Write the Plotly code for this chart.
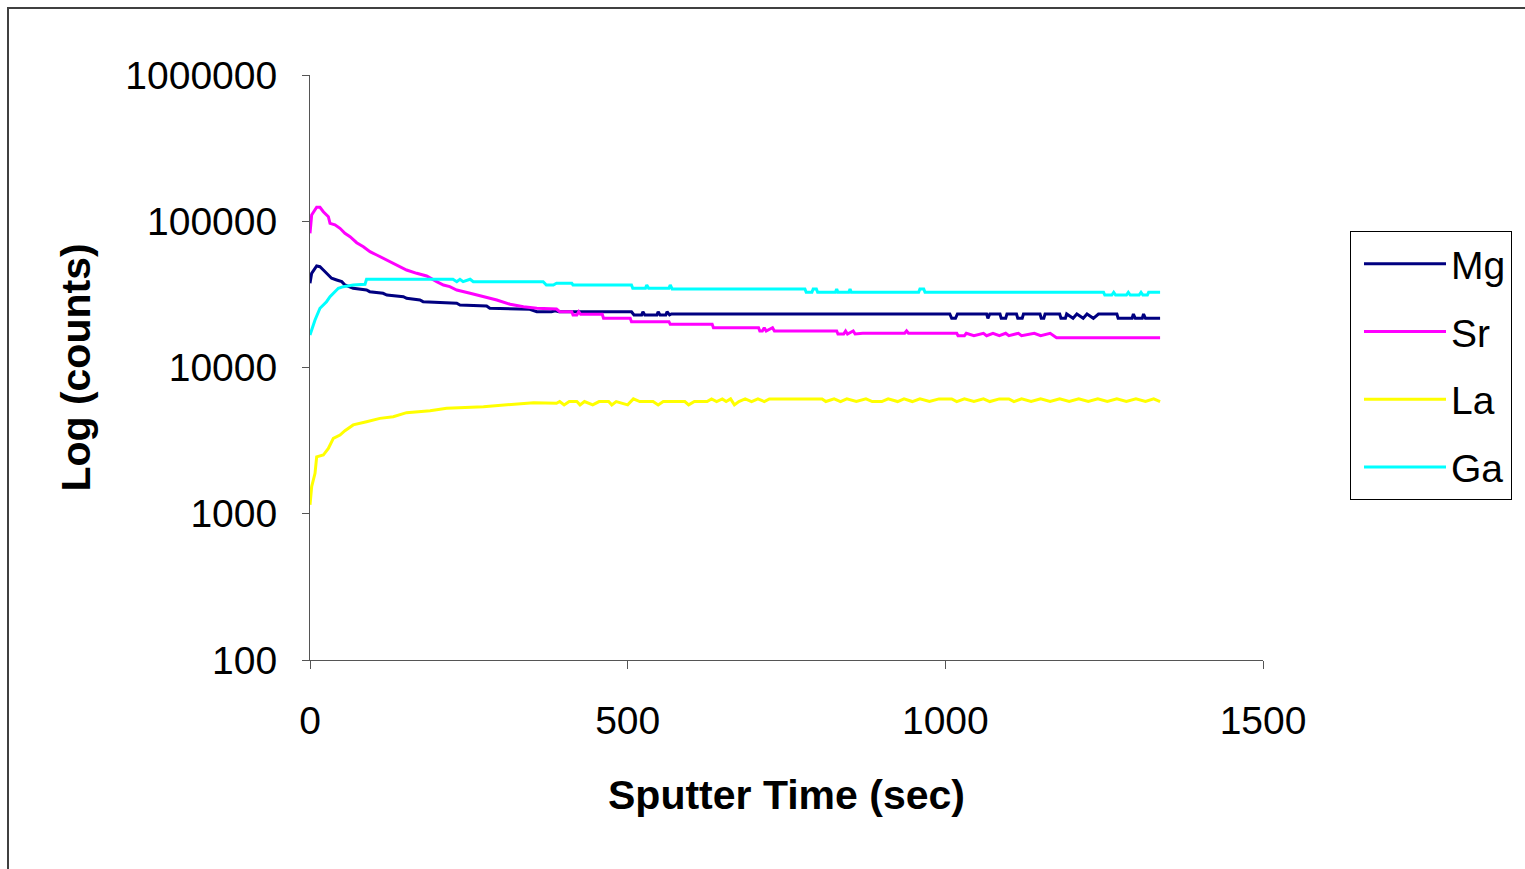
import plotly.graph_objects as go

# ---------------- data ----------------
t_mg = [0, 2.6, 10.5, 15.7, 21, 28.9, 34, 42, 50, 55, 68, 89, 94, 115, 121, 147, 152, 173, 178,
        231, 236, 278, 283, 346, 357, 380, 386, 392, 441, 506, 510, 522, 524, 527, 546, 548, 551,
        560, 562, 566, 569, 1007, 1010, 1016, 1019, 1065, 1067, 1070, 1086, 1088, 1095, 1097,
        1112, 1114, 1121, 1123, 1149, 1151, 1155, 1157, 1180, 1182, 1189, 1191, 1201, 1207, 1217,
        1223, 1233, 1241, 1270, 1272, 1294, 1296, 1299, 1310, 1312, 1315, 1338]
mg = [37650, 44060, 49430, 48900, 46420, 42910, 40740, 39660, 38620, 36650, 34790, 33880, 32990,
      32170, 31310, 30490, 29720, 28930, 28180, 27480, 26760, 26340, 25400, 25000, 24070, 24070,
      24460, 24070, 24070, 24070, 22870, 22870, 24070, 22870, 22870, 24070, 22870, 22870, 24070,
      22870, 23220, 23220, 21700, 21700, 23220, 23220, 21700, 23220, 23220, 21700, 21700, 23220,
      23220, 21700, 21700, 23220, 23220, 21700, 21700, 23220, 23220, 21700, 21700, 23220, 21700,
      23220, 21700, 23220, 21700, 23220, 23220, 21700, 21700, 23220, 21700, 21700, 23220, 21700,
      21700]

t_sr = [0, 2.6, 10.5, 15.7, 21, 28.9, 31.5, 39.3, 47.2, 55, 63, 73.5, 84, 94.4, 105, 115.4, 126,
        141.7, 152, 168, 183.6, 199.4, 210, 220, 231, 252, 273, 294, 315, 336, 357, 388, 393, 412,
        414, 420, 423, 426, 460, 462, 504, 506, 565, 567, 633, 635, 706, 708, 712, 715, 718, 728,
        731, 829, 831, 840, 843, 846, 855, 858, 870, 936, 939, 942, 1018, 1020, 1030, 1033, 1045,
        1060, 1065, 1075, 1085, 1095, 1100, 1115, 1120, 1140, 1150, 1165, 1175, 1338]
sr = [82700, 110300, 124600, 124600, 116200, 107400, 96800, 94600, 89500, 82700, 78400, 71370,
      66990, 61920, 58770, 55810, 52900, 49430, 46420, 44060, 42230, 38620, 36650, 35700, 33880,
      32170, 30490, 28930, 27050, 26040, 25400, 25120, 24070, 24070, 22870, 22870, 24070, 23110,
      23110, 21700, 21700, 20570, 20570, 19740, 19740, 18720, 18720, 17770, 17770, 18720, 17770,
      18720, 17770, 17770, 16950, 16950, 17770, 16950, 17770, 16950, 17130, 17130, 17770, 17130,
      17130, 16500, 16500, 17130, 16500, 17130, 16500, 17130, 16500, 17130, 16500, 17130, 16500,
      17130, 16500, 17130, 15990, 15990]

t_la = [0, 2.6, 7.9, 10.5, 21, 28.9, 36.7, 47.2, 55, 68, 89, 110, 131, 152, 189, 215, 273, 310,
        352, 388, 393, 400, 408, 420, 425, 432, 445, 455, 470, 475, 482, 500, 509, 519, 540, 548,
        556, 590, 596, 605, 625, 632, 640, 649, 655, 662, 668, 675, 685, 695, 705, 715, 723, 806,
        812, 825, 835, 845, 860, 875, 885, 900, 910, 925, 935, 948, 960, 975, 990, 1010, 1018,
        1030, 1045, 1060, 1070, 1085, 1100, 1108, 1120, 1135, 1150, 1165, 1180, 1195, 1210, 1225,
        1240, 1255, 1270, 1285, 1300, 1315, 1328, 1338]
la = [1150, 1530, 1890, 2450, 2520, 2800, 3280, 3450, 3700, 4050, 4260, 4490, 4610, 4910, 5070,
      5260, 5400, 5540, 5750, 5690, 5850, 5550, 5850, 5850, 5550, 5850, 5550, 5850, 5850, 5550,
      5850, 5550, 6100, 5850, 5850, 5550, 5850, 5850, 5550, 5850, 5850, 6100, 5850, 6100, 5850,
      6100, 5550, 5850, 6100, 5850, 6100, 5850, 6100, 6100, 5850, 6100, 5850, 6100, 5850, 6100,
      5850, 5850, 6100, 5850, 6100, 5850, 6100, 5850, 6100, 6100, 5850, 6100, 5850, 6100, 5850,
      6100, 6100, 5850, 6100, 5850, 6100, 5850, 6100, 5850, 6100, 5850, 6100, 5850, 6100, 5850,
      6100, 5850, 6100, 5850]

t_ga = [0, 2.6, 7.9, 15.7, 26, 31.5, 36.7, 44.6, 52.5, 68, 86.6, 89, 225, 231, 236, 241, 252,
        257, 367, 372, 383, 388, 412, 414, 506, 508, 528, 530, 533, 565, 567, 570, 779, 781, 790,
        792, 797, 799, 827, 829, 831, 848, 850, 852, 958, 960, 966, 968, 1249, 1251, 1262, 1265,
        1268, 1285, 1288, 1291, 1305, 1308, 1311, 1318, 1320, 1338]
ga = [16680, 18050, 21120, 25400, 28180, 30490, 32170, 34790, 35700, 36650, 37060, 40110, 40110,
      38620, 40110, 38620, 40110, 38620, 38620, 36650, 36650, 37650, 37650, 36650, 36650, 34790,
      34790, 36650, 34790, 34790, 36650, 34410, 34410, 32680, 32680, 34410, 34410, 32680, 32680,
      34410, 32680, 32680, 34410, 32680, 32680, 34410, 34410, 32680, 32680, 31310, 31310, 32680,
      31310, 31310, 32680, 31310, 31310, 32680, 31310, 31310, 32680, 32680]

series_names = ["Mg", "Sr", "La", "Ga"]
series_colors = ["#000080", "#FF00FF", "#FFFF00", "#00FFFF"]

x_tickvals = [0, 500, 1000, 1500]
y_tickvals = [100, 1000, 10000, 100000, 1000000]
y_ticktext = ["100", "1000", "10000", "100000", "1000000"]

x_title = "Sputter Time (sec)"
y_title = "Log (counts)"

FONT = "Liberation Sans, Arial, sans-serif"

# ---------------- figure ----------------
fig = go.Figure()
for name, color, tx, vy in zip(series_names, series_colors,
                                [t_mg, t_sr, t_la, t_ga], [mg, sr, la, ga]):
    fig.add_trace(go.Scatter(x=tx, y=vy, mode="lines", name=name, legendgroup=name,
                             line=dict(color=color, width=3)))

W, H = 1525, 869
L, R, T, B = 310, 262, 75, 209
pw, ph = W - L - R, H - T - B

def px_x(px):
    return (px - L) / pw

def px_y(py):
    return (H - B - py) / ph

fig.update_layout(
    width=W, height=H,
    margin=dict(l=L, r=R, t=T, b=B, pad=0),
    paper_bgcolor="white", plot_bgcolor="white",
    font=dict(family=FONT, size=39, color="black"),
    showlegend=True,
    legend=dict(x=px_x(1350), y=px_y(231), xanchor="left", yanchor="top",
                bordercolor="black", borderwidth=1, bgcolor="white",
                font=dict(family=FONT, size=39, color="black"),
                traceorder="grouped", tracegroupgap=14, itemwidth=82,
                indentation=8, entrywidth=80, entrywidthmode="pixels"),
    xaxis=dict(range=[0, 1500], tickvals=x_tickvals, ticks="outside", ticklen=8,
               tickcolor="#555555", tickwidth=1, showline=True, linecolor="#555555",
               linewidth=1, showgrid=False, zeroline=False, ticklabelstandoff=18,
               tickfont=dict(family=FONT, size=39, color="black"),
               title=dict(text="<b>" + x_title + "</b>", standoff=39,
                          font=dict(family=FONT, size=41, color="black"))),
    yaxis=dict(type="log", range=[2, 6], tickvals=y_tickvals, ticktext=y_ticktext,
               ticks="outside", ticklen=7, tickcolor="#555555", tickwidth=1,
               showline=True, linecolor="#555555", linewidth=1, showgrid=False,
               zeroline=False, ticklabelstandoff=17,
               tickfont=dict(family=FONT, size=39, color="black"),
               title=dict(text="<b>" + y_title + "</b>", standoff=22,
                          font=dict(family=FONT, size=41, color="black"))),
    shapes=[
        dict(type="line", xref="paper", yref="paper", x0=px_x(8), x1=px_x(8),
             y0=px_y(8), y1=px_y(880), line=dict(color="#404040", width=2)),
        dict(type="line", xref="paper", yref="paper", x0=px_x(7), x1=px_x(1535),
             y0=px_y(8), y1=px_y(8), line=dict(color="#404040", width=2)),
    ],
)

fig.write_html("out.html")
